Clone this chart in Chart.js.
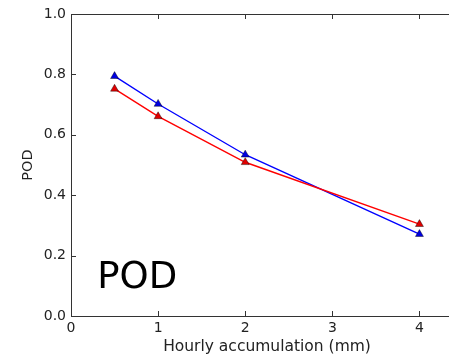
<!DOCTYPE html>
<html>
<head>
<meta charset="utf-8">
<script src="https://cdn.jsdelivr.net/npm/chart.js@4/dist/chart.umd.min.js"></script>
<style>
	html, body { margin: 0; padding: 0; overflow: hidden; background: #fff; }
	#wrap { width: 470px; height: 358px; }
</style>
</head>
<body>
<div id="wrap"><canvas id="chart1" width="470" height="358"></canvas></div>
<script>
// data
var accum = [0.5, 1, 2, 4];
var podBlue = [0.794, 0.702, 0.534, 0.271];
var podRed = [0.752, 0.661, 0.509, 0.304];
var xTicks = [0, 1, 2, 3, 4];
var yTicks = [0, 0.2, 0.4, 0.6, 0.8, 1.0];

var font = 'DejaVu Sans';

function pts(ys) {
	return accum.map(function(x, i) { return { x: x, y: ys[i] }; });
}

// inward ticks, top spine and the big label
var frame = {
	id: 'frame',
	afterDraw: function(chart) {
		var c = chart.ctx, a = chart.chartArea;
		var sx = chart.scales.x, sy = chart.scales.y;
		c.save();
		c.strokeStyle = '#333';
		c.lineWidth = 1;
		c.beginPath();
		c.moveTo(a.left, Math.round(a.top) + 0.5);
		c.lineTo(a.right, Math.round(a.top) + 0.5);
		xTicks.forEach(function(v) {
			var px = Math.round(sx.getPixelForValue(v)) + 0.5;
			c.moveTo(px, a.bottom); c.lineTo(px, a.bottom - 5);
			c.moveTo(px, a.top); c.lineTo(px, a.top + 5);
		});
		yTicks.forEach(function(v) {
			var py = Math.round(sy.getPixelForValue(v)) + 0.5;
			c.moveTo(a.left, py); c.lineTo(a.left + 5, py);
			c.moveTo(a.right, py); c.lineTo(a.right - 5, py);
		});
		c.stroke();
		c.fillStyle = '#000';
		c.font = '37px "' + font + '"';
		c.textAlign = 'center';
		c.textBaseline = 'middle';
		c.fillText('POD', sx.getPixelForValue(0.76), sy.getPixelForValue(0.125));
		c.restore();
	}
};

var config1 = {
	type: 'line',
	data: {
		datasets: [
			{
				data: pts(podRed),
				borderColor: '#ff0000',
				backgroundColor: '#ff0000',
				borderWidth: 1.4,
				pointStyle: 'triangle',
				pointRadius: 4.6,
				pointBackgroundColor: '#e00000',
				pointBorderColor: 'rgba(0,0,0,0.7)',
				pointBorderWidth: 0.6,
				tension: 0
			},
			{
				data: pts(podBlue),
				borderColor: '#0000ff',
				backgroundColor: '#0000ff',
				borderWidth: 1.4,
				pointStyle: 'triangle',
				pointRadius: 4.6,
				pointBackgroundColor: '#0000e0',
				pointBorderColor: 'rgba(0,0,0,0.7)',
				pointBorderWidth: 0.6,
				tension: 0
			}
		]
	},
	options: {
		responsive: false,
		animation: false,
		layout: { padding: { top: 14, right: 7, left: 0, bottom: 0 } },
		scales: {
			x: {
				type: 'linear',
				min: 0,
				max: 4.5,
				afterBuildTicks: function(s) { s.ticks = xTicks.map(function(v) { return { value: v }; }); },
				afterFit: function(s) { s.height = 42; },
				grid: { display: true, drawOnChartArea: false, drawTicks: false, color: 'rgba(0,0,0,0)' },
				border: { display: true, color: '#333', width: 1 },
				ticks: { color: '#222', padding: 4, font: { family: font, size: 14 }, maxRotation: 0 },
				title: { display: true, text: 'Hourly accumulation (mm)', color: '#222', padding: { top: 0, bottom: 1.5 }, font: { family: font, size: 15.5 } }
			},
			y: {
				min: 0,
				max: 1,
				afterBuildTicks: function(s) { s.ticks = yTicks.map(function(v) { return { value: v }; }); },
				afterFit: function(s) { s.width = 71; },
				grid: { display: true, drawOnChartArea: false, drawTicks: false, color: 'rgba(0,0,0,0)' },
				border: { display: true, color: '#333', width: 1 },
				ticks: { color: '#222', padding: 5, font: { family: font, size: 14 }, callback: function(v) { return v.toFixed(1); } },
				title: { display: true, text: 'POD', color: '#222', padding: { top: 20, bottom: 0 }, font: { family: font, size: 14.5 } }
			}
		},
		plugins: {
			legend: { display: false },
			tooltip: { enabled: false }
		}
	},
	plugins: [frame]
};

var chart1 = new Chart(document.getElementById('chart1'), config1);
</script>
</body>
</html>
